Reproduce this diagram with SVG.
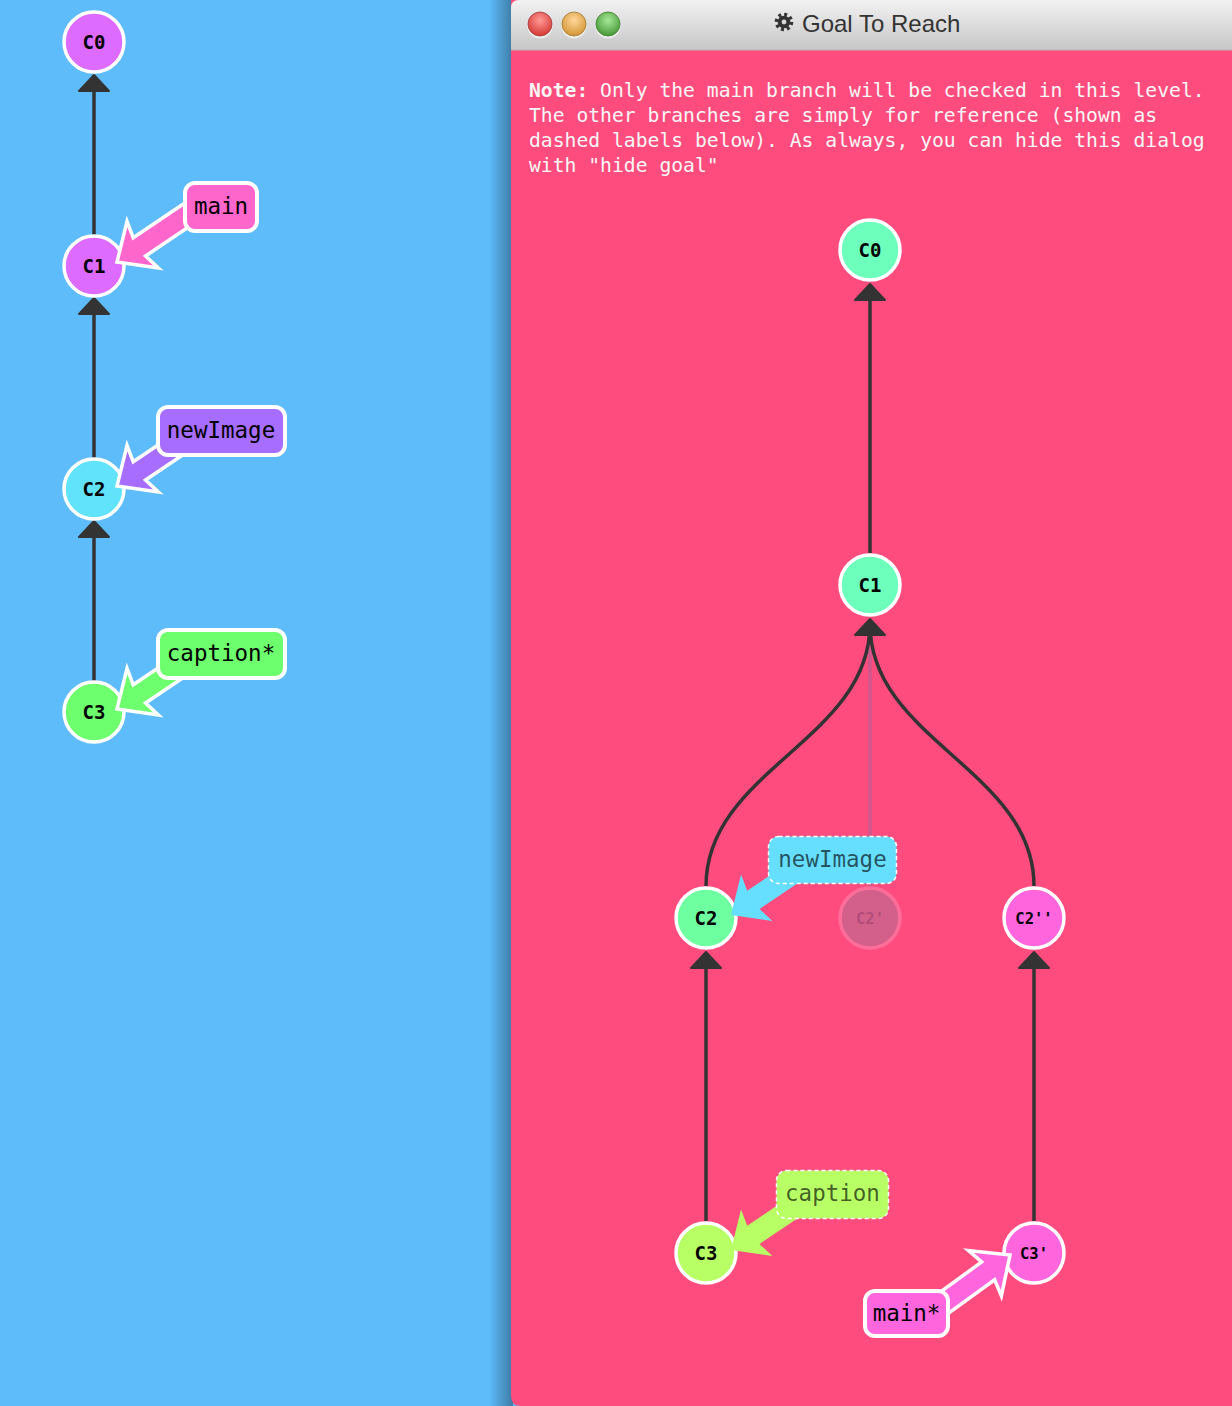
<svg xmlns="http://www.w3.org/2000/svg" width="1232" height="1406" viewBox="0 0 1232 1406">
<defs>
<style>
.edge{fill:none;stroke:#333;stroke-width:3.5}
.ah{fill:#333;stroke:#333;stroke-width:2;stroke-linejoin:round}
.node{stroke:#fff;stroke-width:3.5}
.nt{font-family:"DejaVu Sans Mono","Liberation Mono",monospace;font-weight:bold;font-size:19px;text-anchor:middle;fill:#000}
.nts{font-size:15.5px}
.lbl{stroke:#fff;stroke-width:4}
.lbld{stroke:#fff;stroke-width:1.5;stroke-dasharray:4 3}
.lt{font-family:"DejaVu Sans Mono","Liberation Mono",monospace;font-size:22.5px;text-anchor:middle;fill:#000}
.ltd{fill-opacity:0.65}
.arr{stroke:#fff;stroke-width:3.5;stroke-linejoin:miter}
.arrd{stroke:none}
.note{font-family:"DejaVu Sans Mono","Liberation Mono",monospace;font-size:19.7px;fill:#f6f6f6}
</style>
<path id="ba" d="M0,0 L-31,-28 L-27,-11 L-100,-11 L-100,11 L-27,11 L-31,28 Z"/>
<linearGradient id="tb" x1="0" y1="0" x2="0" y2="1">
<stop offset="0" stop-color="#f2f2f2"/>
<stop offset="1" stop-color="#c6c6c6"/>
</linearGradient>
<linearGradient id="sh" x1="0" y1="0" x2="1" y2="0">
<stop offset="0" stop-color="#000" stop-opacity="0"/>
<stop offset="1" stop-color="#000" stop-opacity="0.35"/>
</linearGradient>
<radialGradient id="gr" cx="0.5" cy="0.35" r="0.6">
<stop offset="0" stop-color="#ff9a96"/>
<stop offset="1" stop-color="#d8403c"/>
</radialGradient>
<radialGradient id="go" cx="0.5" cy="0.35" r="0.6">
<stop offset="0" stop-color="#ffd79a"/>
<stop offset="1" stop-color="#d69a3c"/>
</radialGradient>
<radialGradient id="gg" cx="0.5" cy="0.35" r="0.6">
<stop offset="0" stop-color="#a8e89a"/>
<stop offset="1" stop-color="#4e9e3c"/>
</radialGradient>
</defs>

<rect x="0" y="0" width="1232" height="1406" fill="#5ebcfb"/>

<!-- left panel connectors -->
<g id="left-edges">
<line class="edge" x1="94" y1="235" x2="94" y2="90"/>
<polygon class="ah" points="94,75 79,91 109,91"/>
<line class="edge" x1="94" y1="458" x2="94" y2="313"/>
<polygon class="ah" points="94,298 79,314 109,314"/>
<line class="edge" x1="94" y1="681" x2="94" y2="536"/>
<polygon class="ah" points="94,521 79,537 109,537"/>
</g>

<g id="left-C0"><circle class="node" cx="94" cy="42" r="30" fill="#dd6bff"/><text class="nt" x="94" y="48.5">C0</text></g>
<g id="left-C1"><circle class="node" cx="94" cy="266" r="30" fill="#dd6bff"/><text class="nt" x="94" y="272.5">C1</text></g>
<g id="left-C2"><circle class="node" cx="94" cy="489" r="30" fill="#61e3fc"/><text class="nt" x="94" y="495.5">C2</text></g>
<g id="left-C3"><circle class="node" cx="94" cy="712" r="30" fill="#6dff6d"/><text class="nt" x="94" y="718.5">C3</text></g>

<g id="left-main">
<use href="#ba" class="arr" fill="#ff66cc" transform="translate(117,262) rotate(146)"/>
<rect class="lbl" x="185" y="183" width="72" height="48" rx="10" fill="#ff66cc"/>
<text class="lt" x="221" y="214">main</text>
</g>
<g id="left-newImage">
<use href="#ba" class="arr" fill="#a66dff" transform="translate(117,486) rotate(146)"/>
<rect class="lbl" x="158" y="407" width="127" height="48" rx="10" fill="#a66dff"/>
<text class="lt" x="221" y="438">newImage</text>
</g>
<g id="left-caption">
<use href="#ba" class="arr" fill="#6dff6d" transform="translate(117,709) rotate(146)"/>
<rect class="lbl" x="158" y="630" width="127" height="48" rx="10" fill="#6dff6d"/>
<text class="lt" x="221" y="661">caption*</text>
</g>

<!-- window -->
<g id="window">
<rect x="489" y="0" width="24" height="1406" fill="url(#sh)"/>
<path d="M511,0 H1232 V1406 H521 Q511,1406 511,1396 Z" fill="#ff4c7e"/>
<path d="M519,0 H1232 V50 H511 V8 Q511,0 519,0 Z" fill="url(#tb)"/>
<line x1="511" y1="50" x2="1232" y2="50" stroke="#b8b8b8" stroke-width="1"/>
<circle cx="540" cy="26" r="12.5" fill="#fff" opacity="0.6"/>
<circle cx="540" cy="24" r="12" fill="url(#gr)" stroke="#a03a38" stroke-width="0.8"/>
<circle cx="574" cy="26" r="12.5" fill="#fff" opacity="0.6"/>
<circle cx="574" cy="24" r="12" fill="url(#go)" stroke="#a07830" stroke-width="0.8"/>
<circle cx="608" cy="26" r="12.5" fill="#fff" opacity="0.6"/>
<circle cx="608" cy="24" r="12" fill="url(#gg)" stroke="#3e7a30" stroke-width="0.8"/>
<g id="gear">
<circle cx="784" cy="22" r="7.5" fill="none" stroke="#333" stroke-width="3.6" stroke-dasharray="2.9 2.99"/>
<circle cx="784" cy="22" r="6.3" fill="#333"/>
<circle cx="784" cy="22" r="2.4" fill="#d8d8d8"/>
</g>
<text x="802" y="32" font-family="'Liberation Sans',Arial,sans-serif" font-size="24" fill="#333">Goal To Reach</text>
<text class="note" x="529" y="97"><tspan font-weight="bold">Note:</tspan> Only the main branch will be checked in this level.</text>
<text class="note" x="529" y="122">The other branches are simply for reference (shown as</text>
<text class="note" x="529" y="147">dashed labels below). As always, you can hide this dialog</text>
<text class="note" x="529" y="172">with "hide goal"</text>
</g>

<!-- right connectors -->
<g id="right-edges">
<line x1="870" y1="886" x2="870" y2="625" stroke="#d4558a" stroke-width="4"/>
<line class="edge" x1="870" y1="553" x2="870" y2="298"/>
<polygon class="ah" points="870,284 855,300 885,300"/>
<path class="edge" d="M706,886 C706,770 870,740 870,624"/>
<path class="edge" d="M1034,886 C1034,770 870,740 870,624"/>
<polygon class="ah" points="870,619 855,635 885,635"/>
<line class="edge" x1="706" y1="1221" x2="706" y2="967"/>
<polygon class="ah" points="706,952 691,968 721,968"/>
<line class="edge" x1="1034" y1="1221" x2="1034" y2="967"/>
<polygon class="ah" points="1034,952 1019,968 1049,968"/>
</g>

<g id="right-C0"><circle class="node" cx="870" cy="250" r="30" fill="#6dffbc"/><text class="nt" x="870" y="256.5">C0</text></g>
<g id="right-C1"><circle class="node" cx="870" cy="585" r="30" fill="#6dffbc"/><text class="nt" x="870" y="591.5">C1</text></g>
<g id="right-C2"><circle class="node" cx="706" cy="918" r="30" fill="#6dffa0"/><text class="nt" x="706" y="924.5">C2</text></g>
<g id="right-C2p"><circle cx="870" cy="918" r="30" fill="#d3608a" stroke="#ff6e9a" stroke-width="3.5"/><text class="nt nts" x="870" y="923.5" style="fill:#b24c7a">C2'</text></g>
<g id="right-C2pp"><circle class="node" cx="1034" cy="918" r="30" fill="#ff66dd"/><text class="nt nts" x="1034" y="923.5">C2''</text></g>
<g id="right-C3"><circle class="node" cx="706" cy="1253" r="30" fill="#b8ff66"/><text class="nt" x="706" y="1259.5">C3</text></g>
<g id="right-C3p"><circle class="node" cx="1034" cy="1253" r="30" fill="#ff66dd"/><text class="nt nts" x="1034" y="1258.5">C3'</text></g>

<g id="right-newImage">
<use href="#ba" class="arrd" fill="#66dfff" transform="translate(731,915) rotate(146)"/>
<rect class="lbld" x="768.5" y="836.5" width="128" height="47" rx="10" fill="#66dfff"/>
<text class="lt ltd" x="832.5" y="867">newImage</text>
</g>
<g id="right-caption">
<use href="#ba" class="arrd" fill="#b8ff66" transform="translate(731,1250) rotate(146)"/>
<rect class="lbld" x="776.5" y="1170.5" width="112" height="48" rx="10" fill="#b8ff66"/>
<text class="lt ltd" x="832.5" y="1201">caption</text>
</g>
<g id="right-main">
<use href="#ba" class="arr" fill="#ff66dd" transform="translate(1010,1255) rotate(-36)"/>
<rect class="lbl" x="865" y="1291" width="83" height="45" rx="10" fill="#ff66dd"/>
<text class="lt" x="906.5" y="1321">main*</text>
</g>
</svg>
